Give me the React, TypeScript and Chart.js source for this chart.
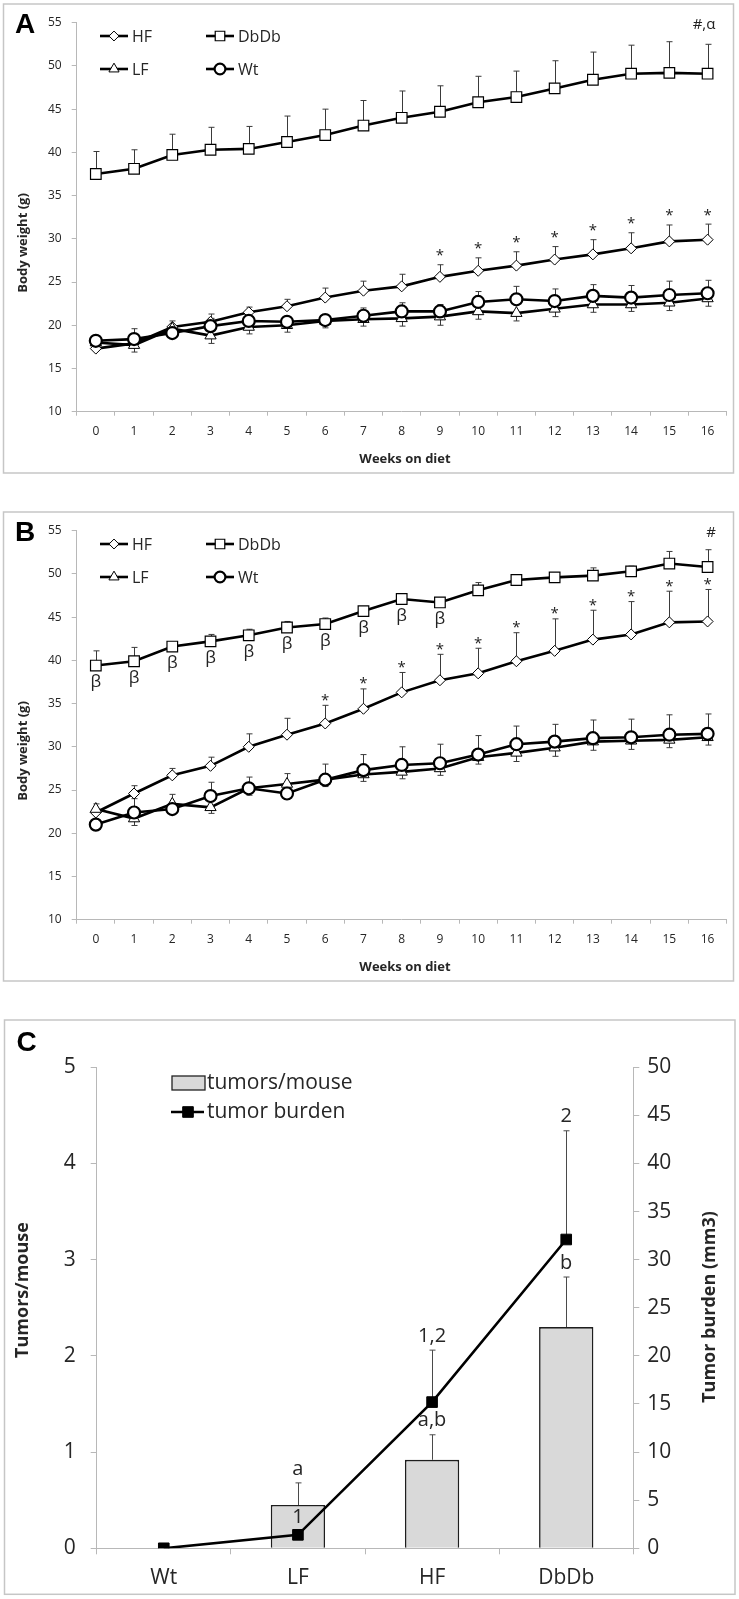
import React, { useEffect, useRef } from 'react';
import { Chart, registerables } from 'chart.js';
Chart.register(...registerables);

const FONT = "'Open Sans', 'DejaVu Sans', sans-serif";
const TXT = '#262626';
const AXIS = '#b8b8b8';

const weeks = ['0', '1', '2', '3', '4', '5', '6', '7', '8', '9', '10', '11', '12', '13', '14', '15', '16'];
const bodyTicks = [10, 55, 5];

// Panel A (error: + upward, - downward)
const hfA = [17.3, 17.9, 19.8, 20.4, 21.5, 22.2, 23.2, 24.0, 24.5, 25.6, 26.3, 26.9, 27.6, 28.2, 28.9, 29.7, 29.9];
const hfAErr = [0.3, 0.3, 0.7, 0.9, 0.6, 0.8, 1.1, 1.1, 1.4, 1.4, 1.5, 1.6, 1.5, 1.7, 1.8, 1.9, 1.8];
const dbA = [37.5, 38.1, 39.7, 40.3, 40.4, 41.2, 42.0, 43.1, 44.0, 44.7, 45.8, 46.4, 47.4, 48.4, 49.1, 49.2, 49.1];
const dbAErr = [2.6, 2.2, 2.4, 2.6, 2.6, 3.0, 3.0, 2.9, 3.1, 3.0, 3.0, 3.0, 3.2, 3.2, 3.3, 3.6, 3.4];
const lfA = [18.0, 17.7, 19.6, 18.8, 19.8, 20.0, 20.5, 20.7, 20.8, 21.0, 21.6, 21.4, 21.9, 22.4, 22.4, 22.6, 23.1];
const lfAErr = [-0.3, -0.8, -0.4, -0.9, -0.8, -0.8, -0.8, -0.8, -0.9, -1.0, -0.9, -0.9, -0.9, -0.9, -0.8, -0.9, -0.9];
const wtA = [18.2, 18.4, 19.1, 19.9, 20.5, 20.4, 20.6, 21.1, 21.6, 21.6, 22.7, 23.0, 22.8, 23.4, 23.2, 23.5, 23.7];
const wtAErr = [0.3, 1.2, 0.4, 0.9, 1.1, 0.6, 0.4, 0.9, 1.0, 0.8, 1.2, 1.5, 1.4, 1.3, 1.4, 1.6, 1.5];
const starsA = [9, 10, 11, 12, 13, 14, 15, 16];
const markA = '#,α';

// Panel B
const hfB = [22.4, 24.6, 26.7, 27.8, 30.0, 31.4, 32.7, 34.4, 36.3, 37.7, 38.5, 39.9, 41.1, 42.4, 43.0, 44.4, 44.5];
const hfBErr = [1.0, 0.9, 0.8, 1.0, 1.5, 1.9, 2.1, 2.3, 2.3, 3.0, 2.9, 3.3, 3.7, 3.4, 3.8, 3.6, 3.7];
const dbB = [39.4, 39.9, 41.6, 42.2, 42.9, 43.8, 44.2, 45.7, 47.1, 46.7, 48.1, 49.3, 49.6, 49.8, 50.3, 51.2, 50.8];
const dbBErr = [1.7, 1.6, 0.3, 0.8, 0.7, 0.7, 0.7, 0.4, 0.3, 0.2, 0.9, 0.3, 0.3, 0.9, 0.6, 1.4, 2.0];
const lfB = [22.8, 21.7, 23.4, 23.0, 25.2, 25.7, 26.2, 26.8, 27.1, 27.5, 28.8, 29.3, 29.9, 30.6, 30.7, 30.8, 31.1];
const lfBErr = [-0.3, -0.8, -0.5, -0.7, -0.8, -0.6, -0.8, -0.8, -0.8, -0.8, -0.8, -1.0, -1.0, -1.0, -1.0, -0.9, -0.9];
const wtB = [21.0, 22.4, 22.8, 24.3, 25.2, 24.6, 26.2, 27.3, 27.9, 28.1, 29.1, 30.3, 30.6, 31.0, 31.1, 31.4, 31.5];
const wtBErr = [0.3, 1.6, 1.7, 1.6, 1.3, 2.3, 1.8, 1.8, 2.1, 2.2, 2.2, 2.1, 2.0, 2.1, 2.1, 2.3, 2.3];
const starsB = [6, 7, 8, 9, 10, 11, 12, 13, 14, 15, 16];
const betaB = [0, 1, 2, 3, 4, 5, 6, 7, 8, 9];
const markB = '#';

// Panel C
const groupsC = ['Wt', 'LF', 'HF', 'DbDb'];
const tumorsPerMouse = [0, 0.45, 0.92, 2.3];
const tumorsErr = [0, 0.23, 0.26, 0.52];
const tumorBurden = [0, 1.4, 15.2, 32.1];
const burdenErr = [0, 0.4, 5.4, 11.3];
const barLetters = ['', 'a', 'a,b', 'b'];
const burdenNumbers = ['', '1', '1,2', '2'];
const leftTicks = [0, 5, 1];
const rightTicks = [0, 50, 5];

const styles: any = {
  HF: { ps: 'rectRot', r: 5.5, bw: 1 },
  DbDb: { ps: 'rect', r: 7.5, bw: 1.2 },
  LF: { ps: 'triangle', r: 6.5, bw: 1 },
  Wt: { ps: 'circle', r: 6, bw: 2.2 },
};

function marker(ctx: any, ps: string, x: number, y: number, r: number, fill: string, lw: number) {
  ctx.save();
  ctx.beginPath();
  if (ps === 'rectRot') {
    ctx.moveTo(x, y - r); ctx.lineTo(x + r, y); ctx.lineTo(x, y + r); ctx.lineTo(x - r, y); ctx.closePath();
  } else if (ps === 'rect') {
    const s = r * Math.SQRT1_2; ctx.rect(x - s, y - s, 2 * s, 2 * s);
  } else if (ps === 'triangle') {
    ctx.moveTo(x, y - r); ctx.lineTo(x + 0.866 * r, y + 0.5 * r); ctx.lineTo(x - 0.866 * r, y + 0.5 * r); ctx.closePath();
  } else {
    ctx.arc(x, y, r, 0, Math.PI * 2);
  }
  ctx.fillStyle = fill; ctx.fill();
  ctx.lineWidth = lw; ctx.strokeStyle = '#000'; ctx.stroke();
  ctx.restore();
}

function errBar(ctx: any, x: number, y0: number, y1: number, cap: number) {
  ctx.beginPath();
  ctx.moveTo(x, y0); ctx.lineTo(x, y1);
  ctx.moveTo(x - cap, y1); ctx.lineTo(x + cap, y1);
  ctx.stroke();
}

function ds(label: string, data: number[], errs: number[]) {
  const s = styles[label];
  return {
    label, data, errs,
    borderColor: '#000', borderWidth: 2.6, tension: 0,
    pointStyle: s.ps, pointRadius: s.r, pointBorderWidth: s.bw,
    pointBackgroundColor: '#fff', pointBorderColor: '#000',
  };
}

function linePanel(letter: string, hf: number[], hfE: number[], db: number[], dbE: number[], lf: number[], lfE: number[], wt: number[], wtE: number[], stars: number[], starOff: number, betas: number[], mark: string, markX: number) {
  const plugin = {
    id: 'panel' + letter,
    beforeDraw(chart: any) {
      const ctx = chart.ctx;
      ctx.save();
      ctx.fillStyle = '#fff'; ctx.fillRect(0, 0, chart.width, chart.height);
      ctx.strokeStyle = '#c6c6c6'; ctx.lineWidth = 1.5;
      ctx.strokeRect(3.5, 4, 730, 469);
      ctx.restore();
    },
    beforeDatasetsDraw(chart: any) {
      const ctx = chart.ctx; const y = chart.scales.y;
      ctx.save(); ctx.strokeStyle = '#3a3a3a'; ctx.lineWidth = 1;
      chart.data.datasets.forEach((d: any, di: number) => {
        const meta = chart.getDatasetMeta(di);
        d.data.forEach((v: number, i: number) => {
          const e = d.errs[i];
          const px = Math.round(meta.data[i].x) + 0.5;
          errBar(ctx, px, y.getPixelForValue(v), y.getPixelForValue(v + e), 3);
        });
      });
      ctx.restore();
    },
    afterDraw(chart: any) {
      const ctx = chart.ctx; const x = chart.scales.x; const y = chart.scales.y;
      ctx.save();
      ctx.fillStyle = '#000';
      ctx.font = "bold 28px 'Liberation Sans', Arial, sans-serif";
      ctx.textAlign = 'center'; ctx.textBaseline = 'alphabetic';
      ctx.fillText(letter, 25, 32.5);
      // legend
      ctx.font = `16px ${FONT}`; ctx.textBaseline = 'middle'; ctx.textAlign = 'left';
      const items = [
        ['HF', 100, 36], ['DbDb', 206, 36], ['LF', 100, 69], ['Wt', 206, 69],
      ];
      items.forEach((it: any) => {
        const [name, lx, ly] = it;
        ctx.strokeStyle = '#000'; ctx.lineWidth = 2.6;
        ctx.beginPath(); ctx.moveTo(lx, ly); ctx.lineTo(lx + 28, ly); ctx.stroke();
        const s = styles[name];
        marker(ctx, s.ps, lx + 14, ly, s.r * 0.9, '#fff', s.bw);
        ctx.fillStyle = TXT;
        ctx.fillText(name, lx + 32, ly + 1);
      });
      // axis titles
      ctx.fillStyle = TXT;
      ctx.font = `bold 13px ${FONT}`;
      ctx.textAlign = 'center'; ctx.textBaseline = 'middle';
      ctx.fillText('Weeks on diet', 405, 459);
      ctx.save(); ctx.translate(23, 243); ctx.rotate(-Math.PI / 2);
      ctx.fillText('Body weight (g)', 0, 0); ctx.restore();
      // stars
      ctx.fillStyle = '#222';
      ctx.font = `15px ${FONT}`; ctx.textBaseline = 'alphabetic';
      stars.forEach((i) => {
        const px = x.getPixelForValue(i);
        const py = y.getPixelForValue(hf[i] + hfE[i]) - starOff;
        ctx.fillText('*', px, py + 0.56 * 15);
      });
      // betas
      ctx.font = `17px ${FONT}`; ctx.textBaseline = 'middle';
      betas.forEach((i) => {
        const px = x.getPixelForValue(i);
        const py = y.getPixelForValue(db[i]) + 17;
        ctx.fillText('β', px, py);
      });
      ctx.font = `15px ${FONT}`;
      ctx.fillText(mark, markX, 25);
      ctx.restore();
    },
  };
  return {
    type: 'line',
    data: {
      labels: weeks,
      datasets: [ds('Wt', wt, wtE), ds('LF', lf, lfE), ds('HF', hf, hfE), ds('DbDb', db, dbE)],
    },
    options: {
      animation: false, responsive: false, devicePixelRatio: 1,
      layout: { padding: { left: 0, right: 12.3, top: 22.7, bottom: 0 } },
      plugins: { legend: { display: false }, tooltip: { enabled: false } },
      scales: {
        x: {
          type: 'category', offset: true,
          grid: { offset: true, drawOnChartArea: false, tickLength: 4, color: AXIS },
          border: { color: AXIS, width: 1 },
          ticks: { padding: 9, color: TXT, font: { family: FONT, size: 12 }, maxRotation: 0, autoSkip: false },
          afterFit: (s: any) => { s.height = 68.3; },
        },
        y: {
          min: bodyTicks[0], max: bodyTicks[1],
          grid: { drawOnChartArea: false, tickLength: 5, color: AXIS },
          border: { color: AXIS, width: 1 },
          ticks: { stepSize: bodyTicks[2], padding: 10, color: TXT, font: { family: FONT, size: 12 } },
          afterFit: (s: any) => { s.width = 76.7; },
        },
      },
    },
    plugins: [plugin],
  };
}

function panelC() {
  const plugin = {
    id: 'panelC',
    beforeDraw(chart: any) {
      const ctx = chart.ctx;
      ctx.save();
      ctx.fillStyle = '#fff'; ctx.fillRect(0, 0, chart.width, chart.height);
      ctx.strokeStyle = '#c6c6c6'; ctx.lineWidth = 1.5;
      ctx.strokeRect(4.5, 10, 730.5, 574.3);
      ctx.restore();
    },
    afterDatasetDraw(chart: any, args: any) {
      if (args.meta.type !== 'bar') return;
      const ctx = chart.ctx; const x = chart.scales.x; const y = chart.scales.y; const y1 = chart.scales.y1;
      ctx.save(); ctx.strokeStyle = '#4a4a4a'; ctx.lineWidth = 1;
      tumorsPerMouse.forEach((v, i) => {
        if (!tumorsErr[i]) return;
        const px = Math.round(x.getPixelForValue(i)) + 0.5;
        errBar(ctx, px, y.getPixelForValue(v), y.getPixelForValue(v + tumorsErr[i]), 3);
      });
      tumorBurden.forEach((v, i) => {
        if (!burdenErr[i]) return;
        const px = Math.round(x.getPixelForValue(i)) + 0.5;
        errBar(ctx, px, y1.getPixelForValue(v), y1.getPixelForValue(v + burdenErr[i]), 3);
      });
      ctx.restore();
    },
    afterDraw(chart: any) {
      const ctx = chart.ctx; const x = chart.scales.x; const y = chart.scales.y; const y1 = chart.scales.y1;
      ctx.save();
      ctx.fillStyle = '#000';
      ctx.font = "bold 28px 'Liberation Sans', Arial, sans-serif";
      ctx.textAlign = 'center'; ctx.textBaseline = 'alphabetic';
      ctx.fillText('C', 26.5, 41);
      // legend
      ctx.fillStyle = '#d9d9d9'; ctx.fillRect(172, 66, 33, 14);
      ctx.strokeStyle = '#222'; ctx.lineWidth = 1.3; ctx.strokeRect(172, 66, 33, 14);
      ctx.strokeStyle = '#000'; ctx.lineWidth = 2.6;
      ctx.beginPath(); ctx.moveTo(171, 102); ctx.lineTo(204, 102); ctx.stroke();
      marker(ctx, 'rect', 188, 102, 7.5, '#000', 1);
      ctx.fillStyle = TXT; ctx.font = `21px ${FONT}`;
      ctx.textAlign = 'left'; ctx.textBaseline = 'middle';
      ctx.fillText('tumors/mouse', 207, 73);
      ctx.fillText('tumor burden', 207, 102);
      // titles
      ctx.font = `bold 18px ${FONT}`; ctx.textAlign = 'center';
      ctx.save(); ctx.translate(23, 280); ctx.rotate(-Math.PI / 2);
      ctx.fillText('Tumors/mouse', 0, 0); ctx.restore();
      ctx.save(); ctx.translate(710, 297); ctx.rotate(-Math.PI / 2);
      ctx.fillText('Tumor burden (mm3)', 0, 0); ctx.restore();
      // labels
      ctx.font = `20px ${FONT}`;
      tumorsPerMouse.forEach((v, i) => {
        if (!barLetters[i]) return;
        ctx.fillText(barLetters[i], x.getPixelForValue(i), y.getPixelForValue(v + tumorsErr[i]) - 14);
      });
      tumorBurden.forEach((v, i) => {
        if (!burdenNumbers[i]) return;
        ctx.fillText(burdenNumbers[i], x.getPixelForValue(i), y1.getPixelForValue(v + burdenErr[i]) - 14);
      });
      ctx.restore();
    },
  };
  return {
    type: 'bar',
    data: {
      labels: groupsC,
      datasets: [
        {
          type: 'line', label: 'tumor burden', data: tumorBurden, yAxisID: 'y1', order: 0,
          borderColor: '#000', borderWidth: 2.6, tension: 0,
          pointStyle: 'rect', pointRadius: 7.5, pointBackgroundColor: '#000', pointBorderColor: '#000', pointBorderWidth: 1,
        },
        {
          type: 'bar', label: 'tumors/mouse', data: tumorsPerMouse, yAxisID: 'y', order: 1,
          backgroundColor: '#d9d9d9', borderColor: '#1e1e1e',
          borderWidth: (c: any) => (c.raw === 0 ? 0 : 1.6),
          barPercentage: 0.405, categoryPercentage: 1,
        },
      ],
    },
    options: {
      animation: false, responsive: false, devicePixelRatio: 1,
      layout: { padding: { left: 0, right: 0, top: 57.3, bottom: 0 } },
      plugins: { legend: { display: false }, tooltip: { enabled: false } },
      scales: {
        x: {
          type: 'category', offset: true,
          grid: { offset: true, drawOnChartArea: false, tickLength: 6, color: AXIS },
          border: { color: AXIS, width: 1 },
          ticks: { padding: 11, color: TXT, font: { family: FONT, size: 21 }, maxRotation: 0 },
          afterFit: (s: any) => { s.height = 50.7; },
        },
        y: {
          position: 'left', min: leftTicks[0], max: leftTicks[1],
          grid: { drawOnChartArea: false, tickLength: 6, color: AXIS },
          border: { color: AXIS, width: 1 },
          ticks: { stepSize: leftTicks[2], padding: 15, color: TXT, font: { family: FONT, size: 21 } },
          afterFit: (s: any) => { s.width = 96.7; },
        },
        y1: {
          position: 'right', min: rightTicks[0], max: rightTicks[1],
          grid: { drawOnChartArea: false, tickLength: 6, color: AXIS },
          border: { color: AXIS, width: 1 },
          ticks: { stepSize: rightTicks[2], padding: 8, color: TXT, font: { family: FONT, size: 21 } },
          afterFit: (s: any) => { s.width = 105.7; },
        },
      },
    },
    plugins: [plugin],
  };
}

function ChartBox({ top, height, make }: any) {
  const ref = useRef<HTMLCanvasElement>(null);
  useEffect(() => {
    const chart = new Chart(ref.current as any, make());
    return () => chart.destroy();
  }, []);
  return (
    <canvas
      ref={ref}
      width={739}
      height={height}
      style={{ position: 'absolute', left: 0, top, width: 739, height }}
    />
  );
}

export default function App() {
  return (
    <div style={{ position: 'absolute', left: 0, top: 0, width: 739, height: 1599, background: '#fff' }}>
      <ChartBox top={0} height={480} make={() => linePanel('A', hfA, hfAErr, dbA, dbAErr, lfA, lfAErr, wtA, wtAErr, starsA, 13, [], markA, 704)} />
      <ChartBox top={507.5} height={480} make={() => linePanel('B', hfB, hfBErr, dbB, dbBErr, lfB, lfBErr, wtB, wtBErr, starsB, 9, betaB, markB, 711)} />
      <ChartBox top={1010} height={589} make={() => panelC()} />
    </div>
  );
}
